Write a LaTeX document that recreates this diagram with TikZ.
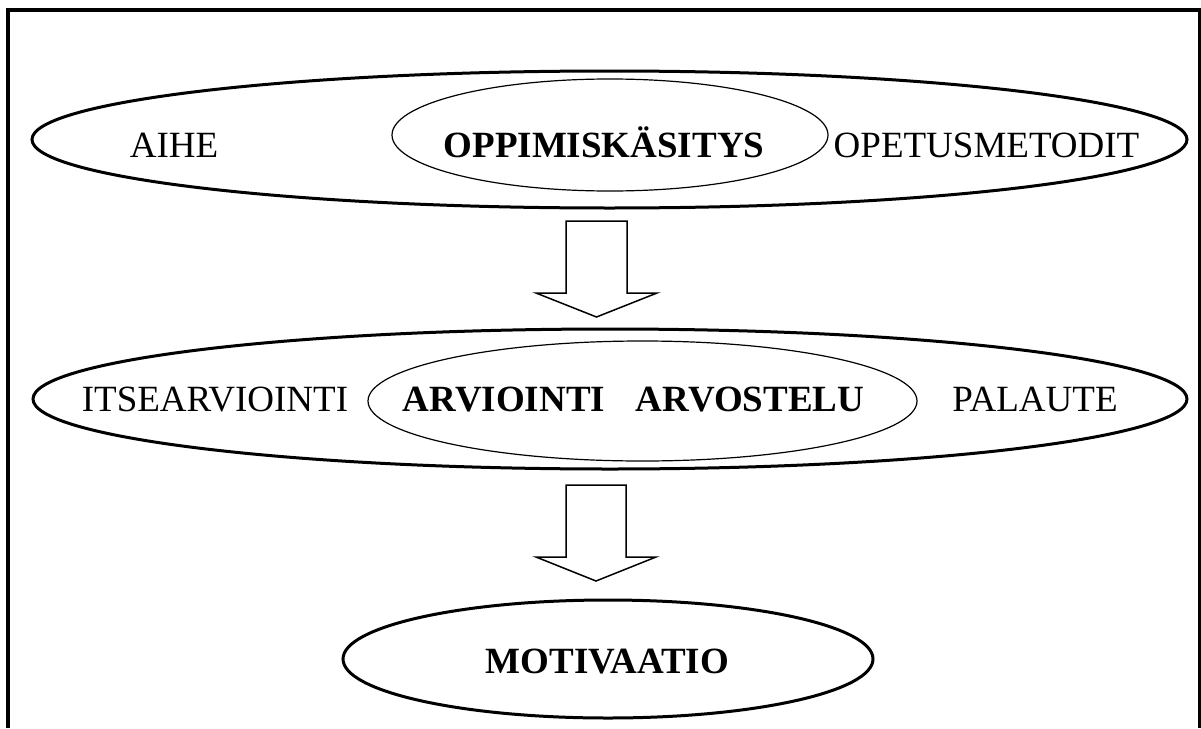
\documentclass[tikz,border=0pt]{standalone}
\usepackage{fontspec}
\setmainfont{Liberation Serif}
\usetikzlibrary{shapes.geometric}
\begin{document}
\begin{tikzpicture}[x=1pt,y=-1pt,
  outer/.style={draw, ellipse, line width=3pt, inner sep=0pt},
  innerE/.style={draw, ellipse, line width=1.2pt, inner sep=0pt},
  lbl/.style={anchor=base, inner sep=0pt, font=\fontsize{37pt}{44pt}\selectfont},
  blbl/.style={anchor=base, inner sep=0pt, font=\fontsize{37pt}{44pt}\selectfont\bfseries},
  blockarrow/.style={draw, line width=1.5pt, fill=white, line join=miter}]
\useasboundingbox (0,0) rectangle (1201,728);
% frame
\draw[line width=3.5pt, line join=miter] (8,728) -- (8,10) -- (1200,10) -- (1200,728);
% top row
\node[outer, minimum width=1155pt, minimum height=137pt] (topE) at (609.5,139.5) {};
\node[innerE, minimum width=436pt, minimum height=112pt] (topI) at (610,135) {};
\node[lbl] (aihe) at (174,157) {AIHE};
\node[blbl] (opp) at (604,157) {OPPIMISKÄSITYS};
\node[lbl] (opet) at (986.5,157) {OPETUSMETODIT};
% arrow 1
\draw[blockarrow] (566,221) -- (627,221) -- (627,293) -- (657,293) -- (596.5,317) -- (536,293) -- (566,293) -- cycle;
% middle row
\node[outer, minimum width=1154pt, minimum height=140pt] (midE) at (610,399) {};
\node[innerE, minimum width=549pt, minimum height=120pt] (midI) at (642.5,401) {};
\node[lbl] (itse) at (215,411) {ITSEARVIOINTI};
\node[blbl] (arvi) at (504,411) {ARVIOINTI};
\node[blbl] (arvo) at (750,411) {ARVOSTELU};
\node[lbl] (pal) at (1035,411) {PALAUTE};
% arrow 2
\draw[blockarrow] (566,485) -- (626,485) -- (626,557) -- (656,557) -- (596,581) -- (536,557) -- (566,557) -- cycle;
% bottom
\node[outer, minimum width=530pt, minimum height=118pt] (motE) at (608,659) {};
\node[blbl] (mot) at (607.5,673) {MOTIVAATIO};
\end{tikzpicture}
\end{document}
